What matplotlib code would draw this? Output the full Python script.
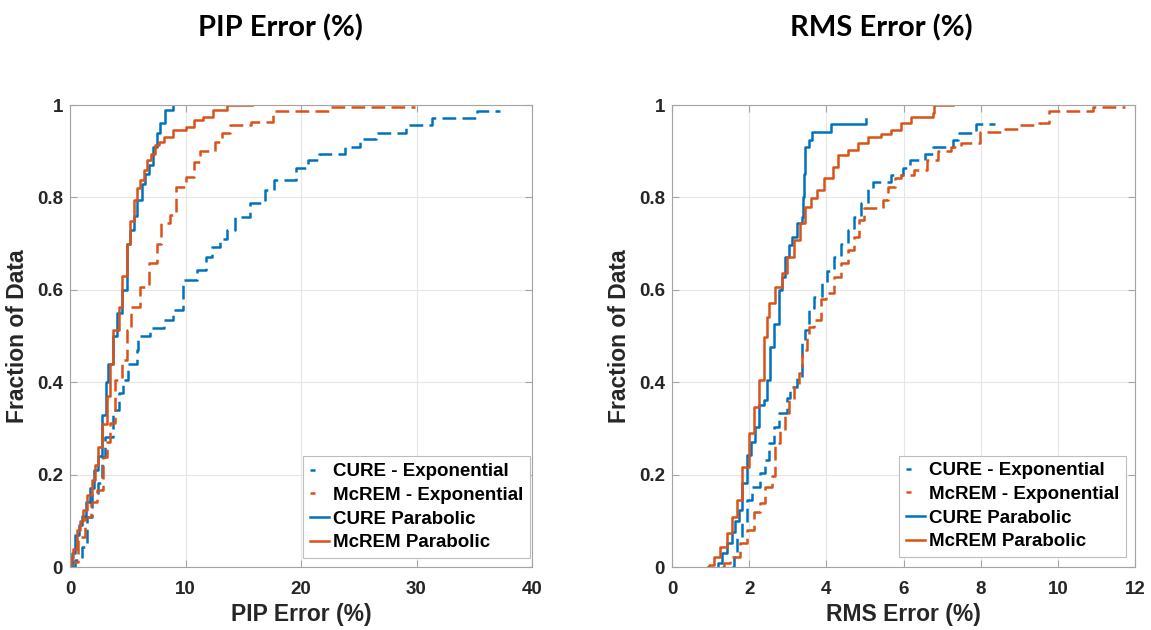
import matplotlib
matplotlib.use('Agg')
from matplotlib import pyplot as plt
from matplotlib.lines import Line2D

# empirical CDF breakpoints: error value where each step starts, and the fraction reached there

# PIP error (%)
pip_cure_exp_x = [0.1, 0.43, 1.0, 1.44, 1.88, 2.45, 2.74, 3.03, 3.75, 4.2, 4.6, 5.05, 5.77, 5.9,
                  6.9, 8.1, 8.95, 9.8, 11.0, 11.8, 12.3, 13.0, 13.6, 14.3, 15.6, 16.9, 17.7,
                  19.6, 20.6, 21.6, 23.8, 25.1, 26.5, 29.1, 31.3, 35.2, 37.2]
pip_cure_exp_y = [0.0, 0.015, 0.044, 0.109, 0.16, 0.181, 0.239, 0.282, 0.34, 0.376, 0.405, 0.44,
                  0.47, 0.5, 0.517, 0.535, 0.556, 0.621, 0.643, 0.672, 0.693, 0.71, 0.73, 0.758,
                  0.787, 0.816, 0.838, 0.863, 0.88, 0.895, 0.91, 0.926, 0.94, 0.957, 0.971,
                  0.986, 0.986]

pip_mcrem_exp_x = [0.05, 0.15, 0.72, 1.3, 1.8, 2.3, 2.9, 3.2, 3.46, 3.9, 4.47, 4.9, 5.3, 6.06,
                   6.8, 7.5, 7.9, 8.66, 9.2, 10.0, 10.7, 11.25, 12.55, 13.2, 13.85, 15.7, 17.6,
                   22.6, 29.9]
pip_mcrem_exp_y = [0.0, 0.01, 0.066, 0.109, 0.14, 0.167, 0.239, 0.27, 0.311, 0.405, 0.448, 0.513,
                   0.563, 0.607, 0.657, 0.70, 0.744, 0.762, 0.823, 0.845, 0.877, 0.90, 0.92,
                   0.939, 0.957, 0.964, 0.986, 0.995, 0.995]

pip_cure_par_x = [0.0, 0.15, 0.43, 0.75, 1.0, 1.4, 1.73, 2.1, 2.45, 2.74, 3.1, 3.3, 3.75, 4.1,
                  4.5, 4.9, 5.2, 5.5, 5.8, 6.2, 6.5, 6.8, 7.2, 7.5, 7.8, 8.2, 8.95]
pip_cure_par_y = [0.0, 0.03, 0.07, 0.09, 0.11, 0.14, 0.17, 0.21, 0.24, 0.33, 0.40, 0.44, 0.50,
                  0.55, 0.60, 0.70, 0.73, 0.76, 0.795, 0.83, 0.85, 0.87, 0.91, 0.94, 0.96, 0.99,
                  1.0]

pip_mcrem_par_x = [0.0, 0.05, 0.3, 0.58, 0.9, 1.15, 1.5, 1.88, 2.2, 2.45, 2.8, 3.2, 3.5, 3.75,
                   4.2, 4.5, 4.9, 5.2, 5.54, 5.8, 6.06, 6.4, 6.7, 7.0, 7.36, 7.7, 8.1, 8.95,
                   10.0, 10.7, 11.5, 12.4, 13.6, 15.8]
pip_mcrem_par_y = [0.0, 0.02, 0.04, 0.08, 0.10, 0.123, 0.155, 0.188, 0.22, 0.26, 0.31, 0.37,
                   0.44, 0.513, 0.563, 0.63, 0.70, 0.75, 0.795, 0.82, 0.838, 0.86, 0.88, 0.895,
                   0.913, 0.92, 0.931, 0.946, 0.953, 0.967, 0.975, 0.99, 1.0, 1.0]

# RMS error (%)
rms_cure_exp_x = [1.55, 1.6, 1.69, 1.82, 1.94, 2.07, 2.29, 2.42, 2.51, 2.64, 2.77, 2.99, 3.07,
                  3.25, 3.38, 3.46, 3.55, 3.68, 3.9, 4.03, 4.2, 4.38, 4.55, 4.72, 4.9, 5.07,
                  5.2, 5.68, 5.98, 6.16, 6.55, 6.77, 7.28, 7.41, 7.87, 8.37]
rms_cure_exp_y = [0.0, 0.022, 0.066, 0.095, 0.145, 0.174, 0.203, 0.232, 0.268, 0.304, 0.333,
                  0.365, 0.39, 0.412, 0.484, 0.513, 0.56, 0.585, 0.614, 0.64, 0.672, 0.70, 0.73,
                  0.758, 0.787, 0.82, 0.834, 0.848, 0.863, 0.88, 0.895, 0.91, 0.924, 0.94,
                  0.959, 0.959]

rms_mcrem_exp_x = [1.3, 1.34, 1.51, 1.77, 1.94, 2.12, 2.29, 2.42, 2.6, 2.68, 2.81, 2.94, 3.03,
                   3.16, 3.29, 3.38, 3.51, 3.55, 3.68, 3.85, 3.98, 4.2, 4.38, 4.55, 4.72, 4.85,
                   4.98, 5.46, 5.59, 5.77, 5.94, 6.28, 6.6, 6.89, 7.24, 7.5, 7.98, 8.63, 9.0,
                   9.5, 9.76, 10.9, 11.75]
rms_mcrem_exp_y = [0.0, 0.008, 0.022, 0.051, 0.08, 0.12, 0.138, 0.174, 0.196, 0.268, 0.297,
                   0.333, 0.361, 0.39, 0.419, 0.47, 0.498, 0.52, 0.535, 0.581, 0.592, 0.628,
                   0.657, 0.686, 0.715, 0.751, 0.776, 0.794, 0.823, 0.841, 0.848, 0.86, 0.882,
                   0.9, 0.91, 0.917, 0.942, 0.949, 0.957, 0.96, 0.988, 0.995, 0.995]

rms_cure_par_x = [1.18, 1.2, 1.29, 1.42, 1.55, 1.64, 1.73, 1.82, 1.95, 2.05, 2.16, 2.25, 2.38,
                  2.47, 2.55, 2.64, 2.77, 2.86, 2.94, 3.03, 3.12, 3.25, 3.38, 3.40, 3.43, 3.46,
                  3.55, 3.64, 4.11, 5.03]
rms_cure_par_y = [0.0, 0.008, 0.03, 0.051, 0.075, 0.10, 0.123, 0.181, 0.242, 0.27, 0.304, 0.35,
                  0.361, 0.405, 0.477, 0.527, 0.6, 0.628, 0.672, 0.697, 0.715, 0.744, 0.758,
                  0.80, 0.85, 0.91, 0.924, 0.942, 0.959, 0.969]

rms_mcrem_par_x = [0.93, 0.95, 1.08, 1.25, 1.42, 1.55, 1.69, 1.82, 1.99, 2.12, 2.25, 2.38, 2.45,
                   2.51, 2.68, 2.86, 2.99, 3.16, 3.33, 3.46, 3.59, 3.77, 3.94, 4.16, 4.29, 4.55,
                   4.81, 5.07, 5.42, 5.68, 5.94, 6.2, 6.76, 6.8, 7.28]
rms_mcrem_par_y = [0.0, 0.004, 0.022, 0.044, 0.073, 0.109, 0.145, 0.217, 0.29, 0.347, 0.405,
                   0.498, 0.542, 0.571, 0.607, 0.636, 0.672, 0.708, 0.744, 0.78, 0.798, 0.816,
                   0.841, 0.866, 0.892, 0.903, 0.917, 0.931, 0.938, 0.946, 0.96, 0.975, 0.983,
                   1.0, 1.0]

labels = ['CURE - Exponential', 'McREM - Exponential', 'CURE Parabolic', 'McREM Parabolic']
titles = ['PIP Error (%)', 'RMS Error (%)']
x_ticks = [[0, 10, 20, 30, 40], [0, 2, 4, 6, 8, 10, 12]]
y_ticks = [0, 0.2, 0.4, 0.6, 0.8, 1]
y_tick_labels = ['0', '0.2', '0.4', '0.6', '0.8', '1']

blue = '#0072BD'
orange = '#D95319'
frame = '#a3a3a3'
text_c = '#262626'
lw = 1.8
dash = (5.5, 2.5)

plt.rcParams['font.family'] = ['Liberation Sans', 'DejaVu Sans']
plt.rcParams['font.weight'] = 'bold'
plt.rcParams['axes.labelweight'] = 'bold'

W, H = 1151, 630
fig = plt.figure(figsize=(W / 100, H / 100), dpi=100)
ax1 = fig.add_axes([70 / W, 63 / H, 462 / W, 462 / H])
ax2 = fig.add_axes([672 / W, 63 / H, 463 / W, 462 / H])

panels = [
    (ax1, [(pip_cure_exp_x, pip_cure_exp_y), (pip_mcrem_exp_x, pip_mcrem_exp_y),
           (pip_cure_par_x, pip_cure_par_y), (pip_mcrem_par_x, pip_mcrem_par_y)]),
    (ax2, [(rms_cure_exp_x, rms_cure_exp_y), (rms_mcrem_exp_x, rms_mcrem_exp_y),
           (rms_cure_par_x, rms_cure_par_y), (rms_mcrem_par_x, rms_mcrem_par_y)]),
]
colors = [blue, orange, blue, orange]
dashed = [True, True, False, False]
legend_anchor = [(0.996, 0.02), (0.981, 0.022)]

for i, (ax, series) in enumerate(panels):
    for (xs, ys), c, d in zip(series, colors, dashed):
        line, = ax.step(xs, ys, where='post', color=c, lw=lw)
        if d:
            line.set_dashes(dash)

    ax.set_xlim(x_ticks[i][0], x_ticks[i][-1])
    ax.set_ylim(0, 1)
    ax.set_xticks(x_ticks[i])
    ax.set_yticks(y_ticks)
    ax.set_yticklabels(y_tick_labels)
    ax.grid(True, color='#e6e6e6', lw=0.8)
    ax.set_axisbelow(True)
    for s in ax.spines.values():
        s.set_color(frame)
        s.set_linewidth(0.8)
    ax.tick_params(axis='both', direction='in', length=5, width=0.8, color=frame,
                   labelcolor=text_c, labelsize=13.5, top=True, right=True)
    ax.tick_params(axis='x', pad=10)
    ax.tick_params(axis='y', pad=5)
    ax.set_xlabel(titles[i], fontsize=16.5, color=text_c, labelpad=4)
    ax.set_ylabel('Fraction of Data', fontsize=16.5, color=text_c, labelpad=6)

    # short-handle legend entries
    handles = [
        Line2D([], [], color=blue, lw=lw, dashes=(2.0, 20)),
        Line2D([], [], color=orange, lw=lw, dashes=(2.0, 20)),
        Line2D([], [], color=blue, lw=lw),
        Line2D([], [], color=orange, lw=lw),
    ]
    leg = ax.legend(handles, labels, loc='lower right', bbox_to_anchor=legend_anchor[i],
                    borderaxespad=0, fontsize=13.5, handlelength=1.0, handletextpad=0.25,
                    labelspacing=0.35, borderpad=0.35, fancybox=False, framealpha=1)
    leg.get_frame().set_edgecolor('#bdbdbd')
    leg.get_frame().set_linewidth(0.8)

fig.text(280 / W, 1 - 28 / H, titles[0], ha='center', va='center', fontsize=21,
         fontweight='bold', family='Lato', color='black')
fig.text(881 / W, 1 - 28 / H, titles[1], ha='center', va='center', fontsize=21,
         fontweight='bold', family='Lato', color='black')

plt.savefig('out.png', dpi=100)
